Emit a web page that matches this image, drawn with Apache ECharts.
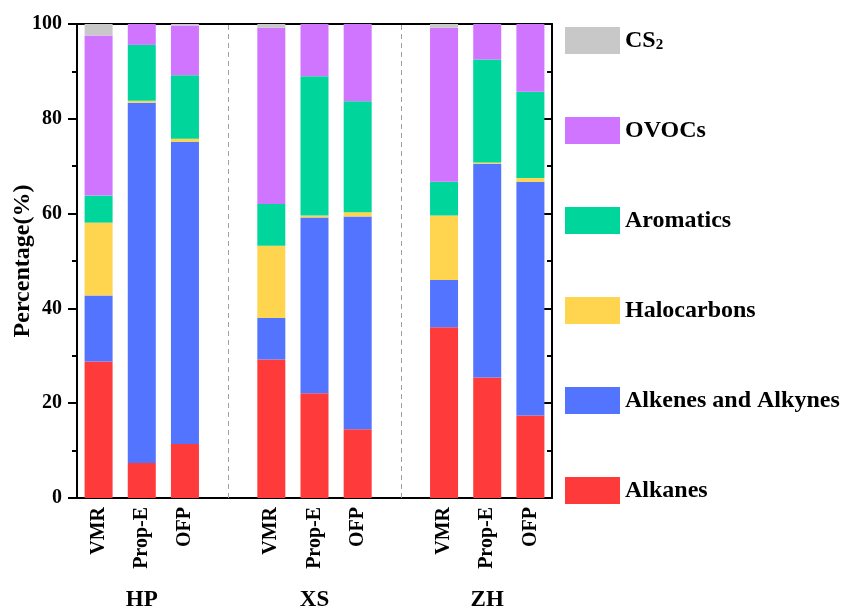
<!DOCTYPE html>
<html><head><meta charset="utf-8">
<script src="https://cdn.jsdelivr.net/npm/echarts@6/dist/echarts.min.js"></script>
<style>html,body{margin:0;padding:0;background:#fff}#c{width:848px;height:608px}</style>
</head><body><div id="c"></div>
<script>
const categories = ['HP-VMR','HP-Prop-E','HP-OFP','gap1','XS-VMR','XS-Prop-E','XS-OFP','gap2','ZH-VMR','ZH-Prop-E','ZH-OFP'];
const catLabels = ['VMR','Prop-E','OFP','','VMR','Prop-E','OFP','','VMR','Prop-E','OFP'];
const groupLabels = ['','HP','','','','XS','','','','ZH',''];
const alkanes   = [28.8, 7.4, 11.4, null, 29.2, 22.1, 14.5, null, 36.0, 25.4, 17.4];
const alkenes   = [13.9, 76.0, 63.7, null, 8.8, 37.1, 44.9, null, 10.0, 45.1, 49.3];
const halo      = [15.4, 0.4, 0.7, null, 15.2, 0.4, 0.9, null, 13.6, 0.3, 0.8];
const aromatics = [5.7, 11.8, 13.4, null, 8.8, 29.4, 23.4, null, 7.1, 21.7, 18.2];
const ovocs     = [33.8, 4.4, 10.5, null, 37.2, 11.0, 16.3, null, 32.5, 7.5, 14.3];
const cs2       = [2.4, 0.0, 0.3, null, 0.8, 0.0, 0.0, null, 0.8, 0.0, 0.0];
const yTicks = [0, 20, 40, 60, 80, 100];

const FONT = 'Liberation Serif';
const chart = echarts.init(document.getElementById('c'));
function bar(name, data, color, extra) {
  return Object.assign({
    name, type: 'bar', stack: 'total', data, barWidth: 28,
    itemStyle: { color }, emphasis: { disabled: true }
  }, extra || {});
}
chart.setOption({
  animation: false,
  grid: { left: 77, right: 296, top: 24, bottom: 110, containLabel: false, outerBoundsMode: 'none' },
  legend: {
    orient: 'vertical', left: 560, top: 22,
    itemWidth: 55, itemHeight: 27, itemGap: 63, icon: 'rect',
    data: ['CS2','OVOCs','Aromatics','Halocarbons','Alkenes and Alkynes','Alkanes'],
    formatter: n => n === 'CS2' ? '{m|CS}{s|2}' : n,
    textStyle: {
      fontFamily: FONT, fontWeight: 'bold', fontSize: 24, color: '#000',
      rich: {
        m: { fontFamily: FONT, fontWeight: 'bold', fontSize: 24, color: '#000' },
        s: { fontFamily: FONT, fontWeight: 'bold', fontSize: 15, color: '#000', verticalAlign: 'bottom', padding: [9,0,0,0] }
      }
    }
  },
  xAxis: [
    {
      type: 'category', data: categories, position: 'bottom',
      axisLine: { lineStyle: { color: '#000', width: 2 } },
      axisTick: { show: false },
      axisLabel: {
        rotate: 90, margin: 9, interval: 0,
        formatter: (v, i) => catLabels[i],
        fontFamily: FONT, fontWeight: 'bold', fontSize: 20, color: '#000'
      }
    },
    {
      type: 'category', data: categories, position: 'bottom',
      axisLine: { show: false }, axisTick: { show: false },
      axisLabel: {
        margin: 91, interval: 0,
        formatter: (v, i) => groupLabels[i],
        fontFamily: FONT, fontWeight: 'bold', fontSize: 23, color: '#000'
      }
    },
    {
      type: 'category', data: categories, position: 'top',
      axisLine: { lineStyle: { color: '#000', width: 2 } },
      axisTick: { show: false }, axisLabel: { show: false }
    }
  ],
  yAxis: [
    {
      type: 'value', min: 0, max: 100, interval: 20, position: 'left',
      name: 'Percentage(%)', nameLocation: 'middle', nameGap: 42, nameMoveOverlap: false,
      nameTextStyle: { fontFamily: FONT, fontWeight: 'bold', fontSize: 24, color: '#000' },
      axisLine: { show: true, lineStyle: { color: '#000', width: 2 } },
      axisTick: { show: true, length: 9, lineStyle: { color: '#000', width: 2 } },
      minorTick: { show: true, splitNumber: 2, length: 5, lineStyle: { color: '#000', width: 2 } },
      splitLine: { show: false },
      axisLabel: {
        margin: 15, fontFamily: FONT, fontWeight: 'bold', fontSize: 20, color: '#000',
        formatter: v => yTicks.includes(v) ? String(v) : ''
      }
    },
    {
      type: 'value', min: 0, max: 100, interval: 20, position: 'right',
      axisLine: { show: true, lineStyle: { color: '#000', width: 2 } },
      axisTick: { show: true, inside: true, length: 9, lineStyle: { color: '#000', width: 2 } },
      minorTick: { show: true, splitNumber: 2, length: 5, lineStyle: { color: '#000', width: 2 } },
      splitLine: { show: false }, axisLabel: { show: false }
    }
  ],
  series: [
    bar('Alkanes', alkanes, '#FF3A3A', {
      markLine: {
        silent: true, symbol: 'none', label: { show: false },
        lineStyle: { color: '#a0a0a0', type: [5, 4], width: 1 },
        data: [{ xAxis: 'gap1' }, { xAxis: 'gap2' }]
      }
    }),
    bar('Alkenes and Alkynes', alkenes, '#5374FF'),
    bar('Halocarbons', halo, '#FFD44F'),
    bar('Aromatics', aromatics, '#00D69B'),
    bar('OVOCs', ovocs, '#D075FF'),
    bar('CS2', cs2, '#C8C8C8')
  ]
});
</script></body></html>
